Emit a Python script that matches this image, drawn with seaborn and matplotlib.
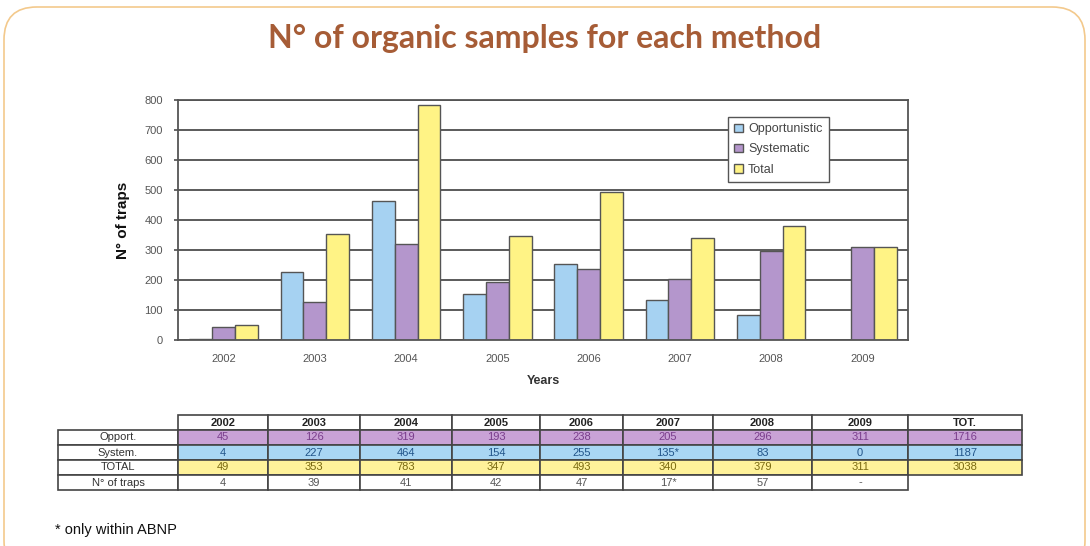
import numpy as np
import pandas as pd
import matplotlib
matplotlib.use("Agg")
import matplotlib.pyplot as plt
import seaborn as sns
from matplotlib.patches import FancyBboxPatch

# ---- data ----
years = ["2002", "2003", "2004", "2005", "2006", "2007", "2008", "2009"]
opportunistic = [4, 227, 464, 154, 255, 135, 83, 0]
systematic = [45, 126, 319, 193, 238, 205, 296, 311]
total = [49, 353, 783, 347, 493, 340, 379, 311]
series_names = ["Opportunistic", "Systematic", "Total"]
series_colors = ["#a6d2f2", "#b496cc", "#fff385"]

table_header = ["", "2002", "2003", "2004", "2005", "2006", "2007", "2008", "2009", "TOT."]
row_labels = ["Opport.", "System.", "TOTAL", "N° of traps"]
opport_row = ["45", "126", "319", "193", "238", "205", "296", "311", "1716"]
system_row = ["4", "227", "464", "154", "255", "135*", "83", "0", "1187"]
total_row = ["49", "353", "783", "347", "493", "340", "379", "311", "3038"]
traps_row = ["4", "39", "41", "42", "47", "17*", "57", "-", ""]

sns.set_theme(style="white")
plt.rcParams["font.family"] = ["Liberation Sans", "DejaVu Sans"]

fig = plt.figure(figsize=(10.9, 5.46), dpi=100)
fig.patch.set_facecolor("white")

# rounded frame
frame = FancyBboxPatch((4 / 1090, -0.05), 1081 / 1090, 1 - 7 / 546 + 0.05,
                       boxstyle="round,pad=0,rounding_size=0.03",
                       transform=fig.transFigure, facecolor="none",
                       edgecolor="#f3c98c", linewidth=1.2, mutation_aspect=2)
fig.patches.append(frame)

fig.text(0.5, 1 - 38 / 546, "N° of organic samples for each method",
         ha="center", va="center", fontsize=23, fontweight="bold",
         color="#a65c36", family=["Lato", "DejaVu Sans"])

# ---- bar chart ----
df = pd.DataFrame({
    "Year": years * 3,
    "Count": opportunistic + systematic + total,
    "Series": [n for n in series_names for _ in years],
})

ax = fig.add_axes([178 / 1090, 1 - 340 / 546, 730 / 1090, 240 / 546])
sns.barplot(data=df, x="Year", y="Count", hue="Series", palette=series_colors,
            saturation=1, width=0.75, edgecolor="#555555", linewidth=1.0, ax=ax)
ax.set_xlim(-0.5, 7.5)
ax.set_ylim(0, 800)
ax.set_yticks(np.arange(0, 801, 100))
ax.yaxis.grid(True, color="#5a5a5a", linewidth=1.4)
ax.set_axisbelow(True)
for s in ax.spines.values():
    s.set_color("#555555")
    s.set_linewidth(1.3)
ax.tick_params(axis="y", labelsize=8, labelcolor="#555555", length=3, color="#555555", pad=8, left=True)
ax.tick_params(axis="x", labelsize=8, labelcolor="#555555", length=0, pad=10)
ax.set_xlabel("Years", fontsize=9, fontweight="bold", color="#333333", labelpad=8)
ax.set_ylabel("N° of traps", fontsize=11, fontweight="bold", color="#111111", labelpad=10)

leg = ax.legend(loc="upper left", bbox_to_anchor=(0.745, 0.955), fontsize=9,
                frameon=True, fancybox=False, edgecolor="#555555", framealpha=1,
                handlelength=0.7, handleheight=0.7, handletextpad=0.4,
                labelspacing=0.65, borderpad=0.5, title=None)
leg.get_frame().set_linewidth(1.0)
for t in leg.get_texts():
    t.set_color("#444444")

# ---- table ----
tax = fig.add_axes([58 / 1090, 1 - 490 / 546, 964 / 1090, 75 / 546])
tax.axis("off")
cell_text = [table_header,
             [row_labels[0]] + opport_row,
             [row_labels[1]] + system_row,
             [row_labels[2]] + total_row,
             [row_labels[3]] + traps_row]
col_w = np.array([120, 90, 92, 92, 88, 83, 90, 99, 96, 114], dtype=float)
tbl = tax.table(cellText=cell_text, colWidths=list(col_w / col_w.sum()),
                cellLoc="center", bbox=[0, 0, 1, 1])
tbl.auto_set_font_size(False)
row_face = ["white", "#c9a2d6", "#a9d6f3", "#fff29a", "white"]
row_txt = ["#222222", "#7a3d8c", "#22558a", "#7a6a10", "#555555"]
for (r, c), cell in tbl.get_celld().items():
    cell.set_edgecolor("#444444")
    cell.set_linewidth(1.2)
    cell.set_facecolor(row_face[r] if c > 0 else "white")
    txt = cell.get_text()
    txt.set_fontsize(8)
    txt.set_color(row_txt[r] if c > 0 else "#333333")
    if r == 0:
        txt.set_fontweight("bold")
    if (r, c) in [(0, 0), (4, 9)]:
        cell.set_edgecolor("none")
        cell.set_facecolor("none")

fig.text(55 / 1090, 1 - 530 / 546, "* only within ABNP", fontsize=10.5,
         ha="left", va="center", color="#111111")

fig.savefig("out.png", dpi=100, facecolor="white")
